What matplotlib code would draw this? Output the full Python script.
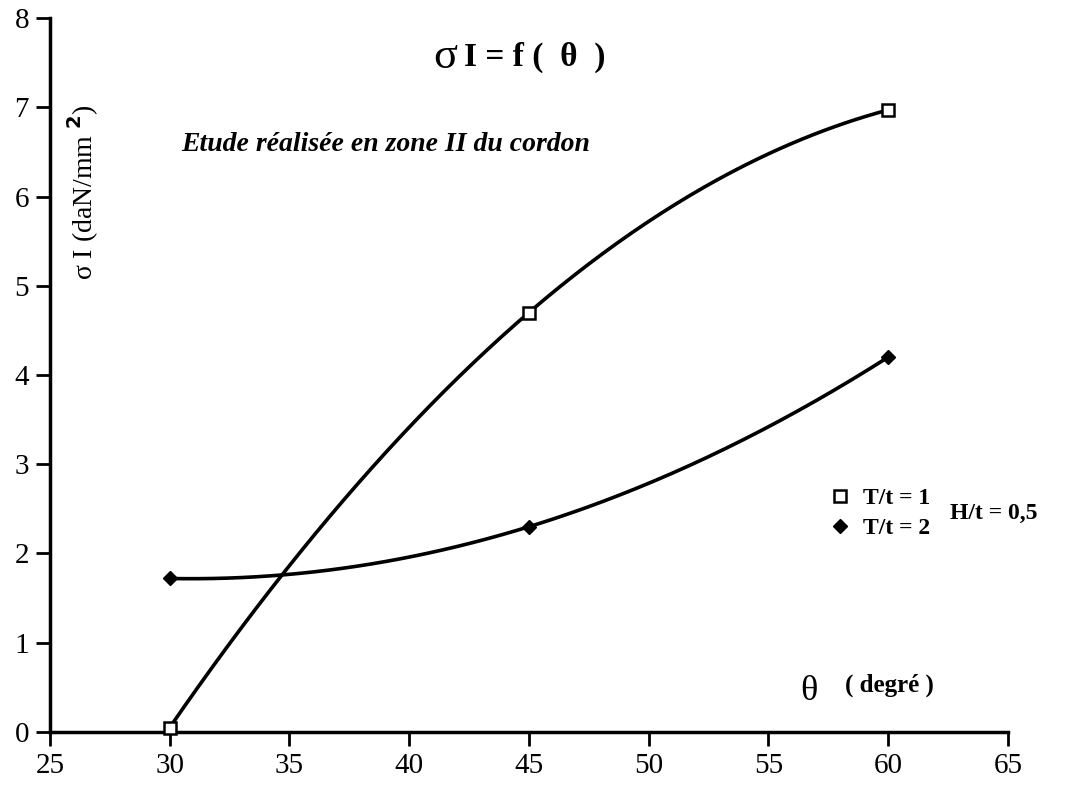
import numpy as np
import matplotlib
matplotlib.use("Agg")
import matplotlib.pyplot as plt

plt.rcParams['font.family'] = ['Liberation Serif', 'DejaVu Serif']

# angle theta (degres)
theta = [30, 45, 60]
# sigma I (daN/mm2)
sig_t1 = [0.05, 4.7, 6.97]   # T/t = 1
sig_t2 = [1.72, 2.3, 4.2]    # T/t = 2

x_ticks = [25, 30, 35, 40, 45, 50, 55, 60, 65]
y_ticks = [0, 1, 2, 3, 4, 5, 6, 7, 8]

fig = plt.figure(figsize=(10.79, 7.87), dpi=100)
ax = fig.add_axes([0.0463, 0.0699, 0.8878, 0.9072])

# courbes lissees (polynome de degre 2 passant par les points)
xs = np.linspace(theta[0], theta[-1], 200)
for ys in (sig_t1, sig_t2):
    p = np.polyfit(theta, ys, 2)
    ax.plot(xs, np.polyval(p, xs), color='black', lw=2.6, solid_capstyle='round')

h1, = ax.plot(theta, sig_t1, ls='none', marker='s', ms=8, mfc='white', mec='black',
              mew=1.8, clip_on=False, zorder=5)
h2, = ax.plot(theta, sig_t2, ls='none', marker='D', ms=7, color='black',
              clip_on=False, zorder=5)

ax.set_xlim(25, 65)
ax.set_ylim(0, 8)
ax.set_xticks(x_ticks)
ax.set_yticks(y_ticks)
ax.tick_params(axis='both', direction='out', length=10, width=2, labelsize=21, pad=5)
ax.spines['top'].set_visible(False)
ax.spines['right'].set_visible(False)
ax.spines['left'].set_linewidth(2.5)
ax.spines['bottom'].set_linewidth(2.5)

# titre et annotations
ax.text(42.0, 7.56, 'σ', fontsize=32, ha='right', va='center')
ax.text(42.3, 7.56, 'I = f (  θ  )', fontsize=24, fontweight='bold',
        ha='left', va='center')
ax.text(30.5, 6.58, 'Etude réalisée en zone II du cordon', fontsize=20,
        fontweight='bold', style='italic', ha='left', va='center')
ax.text(26.4, 6.05, 'σ I (daN/mm $^{\\mathbf{2}}$)', fontsize=20, rotation=90,
        ha='center', va='center')
ax.text(56.7, 0.45, 'θ', fontsize=26, ha='center', va='center')
ax.text(58.2, 0.52, '( degré )', fontsize=18, fontweight='bold', ha='left', va='center')

ax.legend([h1, h2], ['T/t = 1', 'T/t = 2'], loc='center left',
          bbox_to_anchor=(56.7, 2.45), bbox_transform=ax.transData,
          frameon=False, handlelength=0.8, handletextpad=0.6, labelspacing=0.35,
          prop={'size': 17, 'weight': 'bold'})
ax.text(62.6, 2.45, 'H/t = 0,5', fontsize=17, fontweight='bold', ha='left', va='center')

fig.savefig('out.png', dpi=100)
